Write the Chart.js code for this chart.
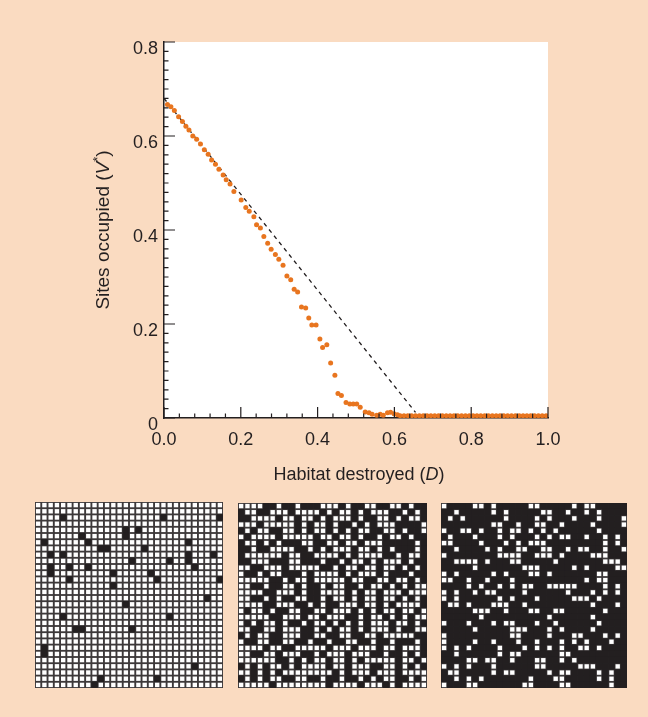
<!DOCTYPE html>
<html>
<head>
<meta charset="utf-8">
<title>Sites occupied vs habitat destroyed</title>
<script src="https://cdn.jsdelivr.net/npm/chart.js@4.4.1/dist/chart.umd.min.js"></script>
<style>
  html, body { margin: 0; padding: 0; }
  body {
    width: 648px; height: 717px; overflow: hidden; position: relative;
    background: #fadbc1;
  }
  .box { position: absolute; }
  #main { left: 0; top: 0; width: 648px; height: 495px; }
  #g1 { left: 35px; top: 502px; width: 188px; height: 186px; }
  #g2 { left: 238px; top: 503px; width: 189px; height: 185px; }
  #g3 { left: 441px; top: 503px; width: 186px; height: 185px; }
</style>
</head>
<body>
<div class="box" id="main"><canvas id="mainChart"></canvas></div>
<div class="box" id="g1"><canvas id="grid1"></canvas></div>
<div class="box" id="g2"><canvas id="grid2"></canvas></div>
<div class="box" id="g3"><canvas id="grid3"></canvas></div>
<script>
// ---- data ----
const habitatDestroyed = [
  0.009, 0.018, 0.027, 0.038, 0.048, 0.057, 0.065, 0.075, 0.085, 0.095,
  0.105, 0.115, 0.124, 0.134, 0.143, 0.154, 0.162, 0.172, 0.182, 0.201,
  0.213, 0.222, 0.234, 0.241, 0.251, 0.260, 0.270, 0.279, 0.290, 0.299,
  0.310, 0.320, 0.330, 0.339, 0.348, 0.358, 0.369, 0.377, 0.385, 0.396,
  0.406, 0.413, 0.424, 0.434, 0.445, 0.453, 0.462, 0.474, 0.484, 0.493,
  0.502, 0.511, 0.524, 0.534, 0.542, 0.554, 0.563, 0.571, 0.582, 0.590,
  0.599, 0.608, 0.615,
  0.625, 0.635, 0.645, 0.655, 0.665, 0.675, 0.685, 0.695, 0.705, 0.715,
  0.725, 0.735, 0.745, 0.755, 0.765, 0.775, 0.785, 0.795, 0.805, 0.815,
  0.825, 0.835, 0.845, 0.855, 0.865, 0.875, 0.885, 0.895, 0.905, 0.915,
  0.925, 0.935, 0.945, 0.955, 0.965, 0.975, 0.985, 0.995
];
const sitesOccupied = [
  0.667, 0.662, 0.654, 0.641, 0.631, 0.621, 0.613, 0.600, 0.593, 0.583,
  0.571, 0.561, 0.549, 0.540, 0.529, 0.517, 0.507, 0.498, 0.482, 0.464,
  0.448, 0.440, 0.428, 0.411, 0.404, 0.386, 0.372, 0.359, 0.348, 0.338,
  0.325, 0.302, 0.294, 0.274, 0.268, 0.236, 0.234, 0.213, 0.198, 0.198,
  0.168, 0.150, 0.156, 0.117, 0.091, 0.052, 0.048, 0.033, 0.030, 0.030,
  0.030, 0.023, 0.013, 0.011, 0.008, 0.006, 0.008, 0.006, 0.011, 0.012,
  0.009, 0.007, 0.005,
  0.005, 0.005, 0.005, 0.005, 0.005, 0.005, 0.005, 0.005, 0.005, 0.005,
  0.005, 0.005, 0.005, 0.005, 0.005, 0.005, 0.005, 0.005, 0.005, 0.005,
  0.005, 0.005, 0.005, 0.005, 0.005, 0.005, 0.005, 0.005, 0.005, 0.005,
  0.005, 0.005, 0.005, 0.005, 0.005, 0.005, 0.005, 0.005
];

// dashed line (prediction)
const predictionX = [0.0, 0.655];
const predictionY = [0.68, 0.012];

const xTickValues = [0, 0.2, 0.4, 0.6, 0.8, 1.0];
const xTickLabels = ['0.0', '0.2', '0.4', '0.6', '0.8', '1.0'];
const yTickValues = [0, 0.2, 0.4, 0.6, 0.8];
const yTickLabels = ['0', '0.2', '0.4', '0.6', '0.8'];
const xMinorStep = 0.04;
const yMinorStep = 0.02;

const xTitleParts = [
  { text: 'Habitat destroyed (' },
  { text: 'D', italic: true },
  { text: ')' }
];
const yTitleParts = [
  { text: 'Sites occupied (' },
  { text: 'V', italic: true },
  { text: '*', sup: true },
  { text: ')' }
];

// lattices, 30 x 30: grid1 lists destroyed (black) cells per row,
// grid2 and grid3 list the remaining (white) cells per row
const GRID_SIZE = 30;
const grid1Black = [
  [], [], [4, 20, 29], [], [14, 16], [7, 14], [1, 8, 24], [10, 11, 17],
  [2, 4, 24, 28], [15, 21, 24], [2, 5, 8, 25], [2, 12, 18], [5, 19, 29], [12], [],
  [27], [14], [], [4, 21], [], [6, 7, 15], [], [], [1], [1], [], [25], [],
  [10, 19], [9]
];
const grid2White = [
  [0,1,2,3,6,9,13,14,15,17,20,21,24,25,27],
  [1,2,5,6,7,9,10,11,12,14,16,17,19,21,22,23,26,28],
  [2,3,4,5,7,8,10,11,13,15,16,17,19,22,23,25,27,28],
  [0,1,2,4,5,6,7,8,10,12,13,15,18,20,22,23,24,29],
  [1,3,4,7,8,10,12,13,15,17,19,20,23,24,26,29],
  [0,2,3,4,5,7,8,9,10,11,13,14,16,17,19,22,24,25,27],
  [1,2,4,6,10,11,14,15,17,18,20,21,22,28],
  [2,5,6,7,8,11,13,15,16,17,19,20,22,24,28],
  [1,2,3,4,5,6,8,9,12,13,14,15,17,19,20,21,22,25,27,28],
  [2,3,4,8,9,13,16,18,19,21,23,24,25,27],
  [0,1,4,5,6,8,9,10,11,12,15,17,18,20,21,23,24,26,28],
  [0,3,5,6,10,12,13,14,15,17,19,20,21,23,27],
  [0,1,2,3,4,7,9,10,12,13,14,15,16,18,19,22,23,25,26,28],
  [0,1,4,7,8,10,13,15,16,19,21,22,24,26,28,29],
  [0,1,2,3,6,7,8,10,13,14,15,16,18,20,21,23,24,25,27,28,29],
  [0,1,4,6,9,10,13,15,16,18,20,21,23,24,26,28],
  [0,1,2,3,6,7,8,11,13,16,17,18,20,21,23,25,26,27,28],
  [0,2,3,5,8,9,12,13,15,16,17,19,21,23,24,26,27,29],
  [0,1,2,3,4,7,8,9,11,12,14,15,16,19,21,22,24,26,28,29],
  [0,2,4,5,7,10,12,13,15,17,19,21,22,23,25,26,28],
  [0,1,4,5,7,8,9,12,14,16,17,19,21,22,23,25,28,29],
  [1,3,4,7,8,9,12,13,16,17,20,21,23,24,25,26,27],
  [0,3,4,7,8,11,14,17,18,21,24,28],
  [0,1,2,3,5,6,9,10,11,12,13,15,16,17,19,20,21,23,24,26,27,28],
  [0,1,4,5,7,8,9,12,14,15,16,18,19,20,23,26,28],
  [0,1,2,3,4,5,8,10,12,13,15,16,18,20,21,22,23,24,26,27,29],
  [1,3,5,6,8,10,11,12,13,15,16,18,19,20,23,24,26,28],
  [0,1,3,5,7,8,9,10,11,12,13,14,16,18,19,20,22,23,24,26,27,28,29],
  [1,3,5,6,9,10,13,16,19,21,23,24,27,29],
  [0,1,2,3,4,6,7,8,9,10,11,12,13,15,16,17,18,20,21,22,24,26,27,28,29]
];
const grid3White = [
  [0,5,6,8,14,15,21,23,24],
  [2,8,10,16,17,20,23,25],
  [1,3,10,15,17,21,25,29],
  [8,9,12,15,16,19,24,29],
  [0,3,4,6,9,11,12,14,16,18,25],
  [1,5,9,11,15,17,19,20,23,26,28],
  [0,1,6,10,12,14,15,16,26,28],
  [2,7,9,12,13,16,17,20,22,23,26,29],
  [0,9,10,11,12,15,16,17,19,24,25,26],
  [2,3,4,5,7,11,12,18,26,27,28],
  [5,13,14,15,21,23,28,29],
  [0,2,8,10,14,15,17,25,26],
  [0,1,4,7,11,23,25,26],
  [4,6,9,11,13,14,17,18,19,20,21,26,28],
  [0,2,5,7,8,13,20,24,26,28],
  [0,2,9,11,15,21,22,23,25],
  [1,2,4,8,9,10,13,24,28],
  [5,6,7,10,14,15,18,19,26],
  [6,17,24],
  [0,4,8,10,11,15,18,25],
  [5,11,12,13,17,19,24],
  [0,11,12,17,21,22,26,28],
  [0,5,8,12,15,19,21,23,27],
  [0,2,4,9,13,15,17,19,22,23,25],
  [2,9,11,12,19,20],
  [4,5,7,8,11,15,16,19,21],
  [0,2,4,8,15,16,22,23,24,28],
  [1,2,8,10,11,17,19,20,25,27],
  [2,4,6,14,18,19,25,27],
  [0,4,5,13,14,19,20,27]
];

// ---- styling ----
const INK = '#231f20';
const ORANGE = '#e8751f';
const FONT = '"Liberation Sans", Arial, Helvetica, sans-serif';

Chart.defaults.font.family = FONT;
Chart.defaults.color = INK;

const plotDecor = {
  id: 'plotDecor',
  beforeDraw(chart) {
    const { ctx, chartArea: a } = chart;
    ctx.save();
    ctx.fillStyle = '#ffffff';
    ctx.fillRect(a.left, a.top, a.right - a.left, a.bottom - a.top);
    ctx.restore();
  },
  afterDatasetsDraw(chart) {
    const { ctx, chartArea: a, scales: { x, y } } = chart;
    ctx.save();
    ctx.strokeStyle = INK;
    ctx.lineWidth = 1.2;
    ctx.beginPath();
    // ticks point inward
    for (let i = 0; i * xMinorStep <= 1.0001; i++) {
      const px = x.getPixelForValue(i * xMinorStep);
      const len = i % 5 === 0 ? 11 : 4.5;
      ctx.moveTo(px, a.bottom);
      ctx.lineTo(px, a.bottom - len);
    }
    for (let i = 0; i * yMinorStep <= 0.8001; i++) {
      const py = y.getPixelForValue(i * yMinorStep);
      const len = i % 10 === 0 ? 11 : 4.5;
      ctx.moveTo(a.left, py);
      ctx.lineTo(a.left + len, py);
    }
    ctx.stroke();
    ctx.restore();
  },
  afterDraw(chart) {
    const { ctx, chartArea: a } = chart;
    ctx.save();
    ctx.fillStyle = INK;
    ctx.textBaseline = 'middle';
    drawRich(ctx, xTitleParts, 359, 475, 18);
    ctx.translate(104, (a.top + a.bottom) / 2);
    ctx.rotate(-Math.PI / 2);
    drawRich(ctx, yTitleParts, 0, 0, 19);
    ctx.restore();
  }
};

function partFont(p, size) {
  const s = p.sup ? Math.round(size * 0.7) : size;
  return (p.italic ? 'italic ' : '') + s + 'px ' + FONT;
}

function drawRich(ctx, parts, cx, cy, size) {
  let total = 0;
  const widths = parts.map(p => {
    ctx.font = partFont(p, size);
    const w = ctx.measureText(p.text).width;
    total += w;
    return w;
  });
  let x = cx - total / 2;
  ctx.textAlign = 'left';
  parts.forEach((p, i) => {
    ctx.font = partFont(p, size);
    ctx.fillText(p.text, x, cy + (p.sup ? -size * 0.3 : 0));
    x += widths[i];
  });
}

new Chart(document.getElementById('mainChart'), {
  type: 'scatter',
  data: {
    datasets: [
      {
        label: 'Simulation',
        data: habitatDestroyed.map((d, i) => ({ x: d, y: sitesOccupied[i] })),
        pointRadius: 2.5,
        pointBackgroundColor: ORANGE,
        pointBorderWidth: 0,
        showLine: false
      },
      {
        label: 'Prediction',
        data: predictionX.map((d, i) => ({ x: d, y: predictionY[i] })),
        showLine: true,
        borderColor: INK,
        borderWidth: 1.3,
        borderDash: [4, 4],
        pointRadius: 0,
        fill: false
      }
    ]
  },
  options: {
    responsive: true,
    maintainAspectRatio: false,
    animation: false,
    events: [],
    layout: { autoPadding: false, padding: { left: 104, right: 100, top: 42, bottom: 5 } },
    plugins: { legend: { display: false }, tooltip: { enabled: false } },
    scales: {
      x: {
        type: 'linear', min: 0, max: 1,
        grid: { display: false, drawTicks: false },
        border: { color: INK, width: 1.5 },
        afterBuildTicks: s => { s.ticks = xTickValues.map(v => ({ value: v })); },
        afterFit: s => { s.height = 72; },
        ticks: {
          font: { size: 18 }, color: INK, padding: 11, maxRotation: 0,
          callback: (v, i) => xTickLabels[i]
        }
      },
      y: {
        type: 'linear', min: 0, max: 0.8,
        grid: { display: false, drawTicks: false },
        border: { color: INK, width: 1.5 },
        afterBuildTicks: s => { s.ticks = yTickValues.map(v => ({ value: v })); },
        afterFit: s => { s.width = 60; },
        ticks: {
          font: { size: 18 }, color: INK, padding: 6, labelOffset: 7,
          callback: (v, i) => yTickLabels[i]
        }
      }
    }
  },
  plugins: [plotDecor]
});

// ---- lattice panels ----
const latticeBg = {
  id: 'latticeBg',
  beforeDraw(chart) {
    const { ctx, chartArea: a } = chart;
    ctx.save();
    ctx.fillStyle = '#3d393a';
    ctx.fillRect(a.left, a.top, a.right - a.left, a.bottom - a.top);
    ctx.restore();
  }
};

function complement(rows) {
  return rows.map(cols => {
    const out = [];
    for (let c = 0; c < GRID_SIZE; c++) if (!cols.includes(c)) out.push(c);
    return out;
  });
}

function cellsFromRows(rows) {
  const pts = [];
  rows.forEach((cols, r) => cols.forEach(c => pts.push({ x: c, y: r })));
  return pts;
}

function drawLattice(id, whiteRows) {
  const blackRows = complement(whiteRows);
  new Chart(document.getElementById(id), {
    type: 'scatter',
    data: {
      datasets: [
        { data: cellsFromRows(whiteRows), pointStyle: 'rect', pointRadius: 3.1,
          pointBackgroundColor: '#ffffff', pointBorderWidth: 0 },
        { data: cellsFromRows(blackRows), pointStyle: 'rect', pointRadius: 4.7,
          pointBackgroundColor: INK, pointBorderWidth: 0 }
      ]
    },
    options: {
      responsive: true,
      maintainAspectRatio: false,
      animation: false,
      events: [],
      layout: { autoPadding: false, padding: 0 },
      plugins: { legend: { display: false }, tooltip: { enabled: false } },
      scales: {
        x: { type: 'linear', display: false, min: -0.5, max: GRID_SIZE - 0.5 },
        y: { type: 'linear', display: false, min: -0.5, max: GRID_SIZE - 0.5, reverse: true }
      }
    },
    plugins: [latticeBg]
  });
}

drawLattice('grid1', complement(grid1Black));
drawLattice('grid2', grid2White);
drawLattice('grid3', grid3White);
</script>
</body>
</html>
